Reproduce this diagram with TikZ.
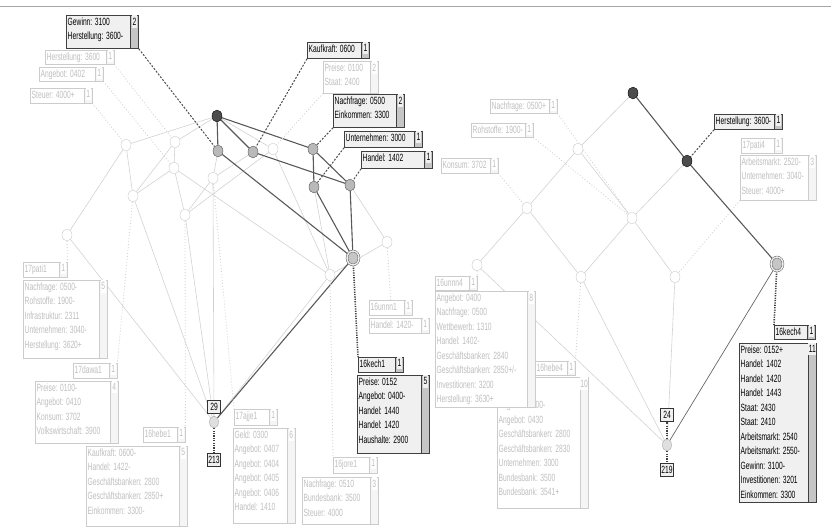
\documentclass[tikz,border=0pt]{standalone}
\usepackage{fontspec}
\newfontfamily\lblfamily{Liberation Sans}[FakeStretch=0.64]
\newcommand{\boxfont}{\lblfamily\fontsize{10.5}{14.5}\selectfont}
\usetikzlibrary{shapes.geometric, backgrounds}

% label box: name, kind (lt/dk), x, y, width, height, count, lines
\newcommand{\infobox}[8]{%
  \node[#2box, minimum width=#5pt, minimum height=#6pt, anchor=north west] (#1) at (#3,#4) {};
  \node[#2cnt, minimum height=#6pt, anchor=north east] (#1c) at (#1.north east) {};
  \node[#2num, anchor=north] at (#1c.north) {#7};
  \node[#2txt, anchor=north west] at (#1.north west) {#8};%
}

\begin{document}
\begin{tikzpicture}[x=1pt, y=-1pt,
  wn/.style={ellipse, draw=gray!45, fill=white, minimum width=10pt, minimum height=12pt, inner sep=0pt},
  gn/.style={wn, draw=black!70, fill=gray!55},
  dn/.style={wn, draw=black, fill=black!70},
  bign/.style={ellipse, draw=black!70, fill=gray!45, double=gray!15, double distance=1.5pt, minimum width=12pt, minimum height=14pt, inner sep=0pt},
  botn/.style={ellipse, draw=gray!70, fill=gray!25, minimum width=9pt, minimum height=12pt, inner sep=0pt},
  numbox/.style={draw=black!80, fill=gray!12, font=\boxfont, inner sep=1pt, minimum width=13pt, minimum height=13pt},
  ltbox/.style={draw=gray!40, fill=white, inner sep=0pt},
  dkbox/.style={draw=black!75, fill=gray!12, line width=0.8pt, inner sep=0pt},
  ltcnt/.style={draw=gray!40, fill=gray!8, minimum width=8pt, inner sep=0pt},
  dkcnt/.style={draw=black!75, fill=gray!45, minimum width=8pt, inner sep=0pt, line width=0.8pt},
  ltnum/.style={font=\boxfont, text=gray!50, fill=white, inner xsep=0.5pt, inner ysep=2.5pt},
  dknum/.style={font=\boxfont, fill=gray!12, inner xsep=0.5pt, inner ysep=2.5pt},
  lttxt/.style={font=\boxfont, text=gray!50, align=left, inner xsep=1.5pt, inner ysep=2.5pt},
  dktxt/.style={font=\boxfont, align=left, inner xsep=1.5pt, inner ysep=2.5pt},
  lte/.style={draw=gray!35, line width=0.6pt},
  dke/.style={draw=black!65, line width=1.1pt},
  mde/.style={draw=black!60, line width=0.7pt},
  dklead/.style={draw=black!70, line width=1pt, dash pattern=on 2pt off 1.5pt},
  ltlead/.style={draw=gray!35, line width=0.8pt, dash pattern=on 1pt off 2pt},
  dkdot/.style={draw=black!75, line width=1.6pt, dash pattern=on 1.2pt off 1.2pt}]

  \useasboundingbox (0,0) rectangle (831,531);
  \draw[gray!70, line width=1pt] (0,6) -- (831,6);

  % left lattice
  \node[dn] (top) at (217,116) {};
  \node[wn] (a) at (126,145) {};
  \node[wn] (b) at (175,142) {};
  \node[gn] (c) at (218,151) {};
  \node[gn] (d) at (253,152) {};
  \node[wn] (e) at (273,149) {};
  \node[gn] (f) at (313,149) {};
  \node[wn] (g) at (174,168) {};
  \node[wn] (h) at (213,178) {};
  \node[gn] (i) at (314,187) {};
  \node[gn] (j) at (350,185) {};
  \node[wn] (k) at (133,196) {};
  \node[wn] (l) at (185,215) {};
  \node[wn] (m) at (67,235) {};
  \node[wn] (n) at (387,242) {};
  \node[bign] (o) at (353,258) {};
  \node[wn] (p) at (330,275) {};
  \node[botn] (botL) at (214,422) {};
  \node[numbox] (n29) at (214,407) {29};
  \node[numbox] (n213) at (214,460) {213};

  % right lattice
  \node[dn] (rtop) at (633,93) {};
  \node[wn] (r1) at (578,149) {};
  \node[dn] (r2) at (687,161) {};
  \node[wn] (r3) at (527,208) {};
  \node[wn] (r4) at (632,218) {};
  \node[wn] (r5) at (477,265) {};
  \node[wn] (r6) at (581,277) {};
  \node[wn] (r7) at (675,277) {};
  \node[bign] (rbig) at (777,264) {};
  \node[botn] (botR) at (667,445) {};
  \node[numbox] (n24) at (667,415) {24};
  \node[numbox] (n219) at (667,470) {219};

  % labels left
  \infobox{gew}{dk}{66}{15}{72}{33}{2}{Gewinn: 3100\\Herstellung: 3600-}
  \infobox{herst}{lt}{45}{50}{69}{14}{1}{Herstellung: 3600}
  \infobox{angb}{lt}{39}{67}{64}{14}{1}{Angebot: 0402}
  \infobox{steu}{lt}{30}{88}{62}{15}{1}{Steuer: 4000+}
  \infobox{kauf}{dk}{307}{42}{62}{16}{1}{Kaufkraft: 0600}
  \infobox{preis}{lt}{323}{61}{55}{32}{2}{Preise: 0100\\Staat: 2400}
  \infobox{nach}{dk}{333}{94}{71}{33}{2}{Nachfrage: 0500\\Einkommen: 3300}
  \infobox{unte}{dk}{344}{131}{78}{16}{1}{Unternehmen: 3000}
  \infobox{hand}{dk}{361}{151}{71}{17}{1}{Handel: 1402}
  \infobox{patih}{lt}{23}{262}{44}{15}{1}{17pati1}
  \infobox{pati}{lt}{23}{280}{84}{78}{5}{Nachfrage: 0500-\\Rohstoffe: 1900-\\Infrastruktur: 2311\\Unternehmen: 3040-\\Herstellung: 3620+}
  \infobox{dawah}{lt}{73}{363}{44}{15}{1}{17dawa1}
  \infobox{dawa}{lt}{35}{381}{83}{62}{4}{Preise: 0100-\\Angebot: 0410\\Konsum: 3702\\Volkswirtschaft: 3900}
  \infobox{hebeh}{lt}{143}{427}{42}{15}{1}{16hebe1}
  \infobox{hebe}{lt}{86}{446}{101}{80}{5}{Kaufkraft: 0600-\\Handel: 1422-\\Geschäftsbanken: 2800\\Geschäftsbanken: 2850+\\Einkommen: 3300-}
  \infobox{ajjeh}{lt}{234}{409}{43}{16}{1}{17ajje1}
  \infobox{ajje}{lt}{233}{428}{62}{95}{6}{Geld: 0300\\Angebot: 0407\\Angebot: 0404\\Angebot: 0405\\Angebot: 0406\\Handel: 1410}
  \infobox{joreh}{lt}{333}{457}{44}{16}{1}{16jore1}
  \infobox{jore}{lt}{302}{477}{76}{47}{3}{Nachfrage: 0510\\Bundesbank: 3500\\Steuer: 4000}
  \infobox{unnnh}{lt}{369}{300}{43}{15}{1}{16unnn1}
  \infobox{unnn}{lt}{369}{318}{60}{15}{1}{Handel: 1420-}
  \infobox{kechh}{dk}{358}{357}{45}{15}{1}{16kech1}
  \infobox{kech}{dk}{357}{375}{72}{78}{5}{Preise: 0152\\Angebot: 0400-\\Handel: 1440\\Handel: 1420\\Haushalte: 2900}

  % labels right
  \infobox{rnach}{lt}{490}{99}{67}{14}{1}{Nachfrage: 0500+}
  \infobox{rroh}{lt}{471}{123}{62}{14}{1}{Rohstoffe: 1900-}
  \infobox{rkons}{lt}{441}{158}{57}{15}{1}{Konsum: 3702}
  \infobox{rherst}{dk}{714}{114}{68}{15}{1}{Herstellung: 3600-}
  \infobox{patfh}{lt}{741}{138}{41}{15}{1}{17pati4}
  \infobox{patf}{lt}{740}{155}{76}{45}{3}{Arbeitsmarkt: 2520-\\Unternehmen: 3040-\\Steuer: 4000+}
  \infobox{hebfh}{lt}{535}{361}{40}{14}{1}{16hebe4}
  \infobox{hebf}{lt}{497}{377}{91}{131}{10}{\mbox{}\\\mbox{}\\Angebot: 0400-\\Angebot: 0430\\Geschäftsbanken: 2800\\Geschäftsbanken: 2830\\Unternehmen: 3000\\Bundesbank: 3500\\Bundesbank: 3541+}
  \infobox{unnfh}{lt}{435}{276}{42}{14}{1}{16unnn4}
  \infobox{unnf}{lt}{435}{291}{100}{116}{8}{Angebot: 0400\\Nachfrage: 0500\\Wettbewerb: 1310\\Handel: 1402-\\Geschäftsbanken: 2840\\Geschäftsbanken: 2850+/-\\Investitionen: 3200\\Herstellung: 3630+}
  \infobox{kechfh}{dk}{774}{325}{41}{14}{1}{16kech4}
  \infobox{kechf}{dk}{739}{343}{77}{159}{11}{Preise: 0152+\\Handel: 1402\\Handel: 1420\\Handel: 1443\\Staat: 2430\\Staat: 2410\\Arbeitsmarkt: 2540\\Arbeitsmarkt: 2550-\\Gewinn: 3100-\\Investitionen: 3201\\Einkommen: 3300}

  \begin{pgfonlayer}{background}
    % left edges
    \draw[lte] (top) -- (a);
    \draw[lte] (top) -- (b);
    \draw[lte] (top) -- (e);
    \draw[lte] (a) -- (m);
    \draw[lte] (a) -- (k);
    \draw[lte] (b) -- (g);
    \draw[lte] (b) -- (k);
    \draw[lte] (c) -- (h);
    \draw[lte] (d) -- (h);
    \draw[lte] (e) -- (l);
    \draw[lte] (e) -- (p);
    \draw[lte] (g) -- (k);
    \draw[lte] (g) -- (l);
    \draw[lte] (g) -- (p);
    \draw[lte] (h) -- (l);
    \draw[lte] (h) -- (botL);
    \draw[lte] (i) -- (p);
    \draw[lte] (j) -- (n);
    \draw[lte] (n) -- (p);
    \draw[lte] (k) -- (botL);
    \draw[lte] (l) -- (botL);
    \draw[lte] (m) -- (botL);
    \draw[lte] (p) -- (botL);
    \draw[dke] (top) -- (c);
    \draw[dke] (top) -- (d);
    \draw[dke] (top) -- (f);
    \draw[dke] (c) -- (o);
    \draw[dke] (d) -- (j);
    \draw[dke] (f) -- (i);
    \draw[dke] (f) -- (j);
    \draw[dke] (i) -- (o);
    \draw[dke] (j) -- (o);
    \draw[dke] (o) -- (botL);
    % right edges
    \draw[lte] (rtop) -- (r1);
    \draw[lte] (r1) -- (r3);
    \draw[lte] (r1) -- (r4);
    \draw[lte] (r2) -- (r4);
    \draw[lte] (r3) -- (r5);
    \draw[lte] (r3) -- (r6);
    \draw[lte] (r4) -- (r6);
    \draw[lte] (r4) -- (r7);
    \draw[lte] (r5) -- (botR);
    \draw[lte] (r6) -- (botR);
    \draw[lte] (r7) -- (botR);
    \draw[dke] (rtop) -- (r2);
    \draw[dke] (r2) -- (rbig);
    \draw[mde] (rbig) -- (botR);
    % leaders
    \draw[dklead] (gew.south east) -- (c);
    \draw[ltlead] (herst.south east) -- (b);
    \draw[ltlead] (angb.south east) -- (g);
    \draw[ltlead] (steu.south east) -- (a);
    \draw[dklead] (kauf.south west) -- (d);
    \draw[ltlead] (preis.south west) -- (e);
    \draw[dklead] (nach.south west) -- (f);
    \draw[dklead] (unte.south west) -- (i);
    \draw[dklead] (hand.south west) -- (j);
    \draw[ltlead] (m) -- (patih.north east);
    \draw[ltlead] (k) -- (dawah.north east);
    \draw[ltlead] (l) -- (hebeh.north east);
    \draw[ltlead] (h) -- (ajjeh.north west);
    \draw[ltlead] (p) -- (joreh.north west);
    \draw[ltlead] (n) -- (unnnh.north);
    \draw[dkdot] (o) -- (kechh.north west);
    \draw[dkdot] (botL) -- (n213);
    \draw[ltlead] (rnach.south east) -- (r4);
    \draw[ltlead] (rroh.south east) -- (r4);
    \draw[ltlead] (rkons.south east) -- (r3);
    \draw[dklead] (rherst.south west) -- (r2);
    \draw[ltlead] (patf.south west) -- (r7);
    \draw[ltlead] (r5) -- (unnfh.north east);
    \draw[ltlead] (r6) -- (hebfh.north east);
    \draw[dkdot] (rbig) -- (kechfh.north west);
    \draw[dkdot] (botR) -- (n24);
    \draw[dkdot] (botR) -- (n219);
  \end{pgfonlayer}
\end{tikzpicture}
\end{document}
